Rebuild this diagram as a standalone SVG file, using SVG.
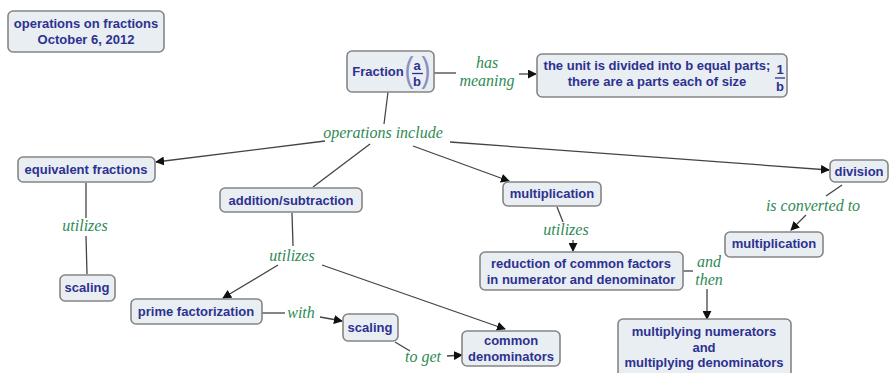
<svg xmlns="http://www.w3.org/2000/svg" width="889" height="373" viewBox="0 0 889 373">
<defs>
<marker id="ah" viewBox="0 0 10 10" refX="9" refY="5" markerWidth="9" markerHeight="9" markerUnits="userSpaceOnUse" orient="auto">
<path d="M0,0 L10,5 L0,10 z" fill="#111"/>
</marker>
<style>
.box{fill:#e9eef3;stroke:#858585;stroke-width:1.6}
.t{font-family:"Liberation Sans",Arial,sans-serif;font-weight:bold;font-size:13px;fill:#2d3190;text-anchor:middle}
.l{font-family:"Liberation Serif","Times New Roman",serif;font-style:italic;font-size:16px;fill:#2f8a55;text-anchor:middle}
.c line{stroke:#444;stroke-width:1.3}
.c .a{marker-end:url(#ah)}
.p{font-family:"Liberation Sans",Arial,sans-serif;font-size:30px;fill:#8a8fc0;text-anchor:middle}
</style>
</defs>
<rect width="889" height="373" fill="#fff"/>

<g class="c" id="connectors">
<line x1="434" y1="73" x2="456" y2="73"/>
<line class="a" x1="519" y1="74" x2="536" y2="74"/>
<line x1="388" y1="92" x2="384" y2="124"/>
<line class="a" x1="325" y1="141" x2="156" y2="162"/>
<line x1="370" y1="144" x2="313" y2="187"/>
<line class="a" x1="413" y1="146" x2="509" y2="181"/>
<line class="a" x1="450" y1="142" x2="829" y2="170"/>
<line x1="86" y1="183" x2="86" y2="218"/>
<line x1="86" y1="236" x2="87" y2="274"/>
<line x1="292" y1="213" x2="293" y2="246"/>
<line class="a" x1="278" y1="265" x2="223" y2="298"/>
<line class="a" x1="322" y1="265" x2="505" y2="329"/>
<line x1="262" y1="313" x2="285" y2="313"/>
<line class="a" x1="320" y1="317" x2="342" y2="321"/>
<line x1="395" y1="342" x2="410" y2="351"/>
<line class="a" x1="447" y1="356" x2="462" y2="355"/>
<line x1="557" y1="207" x2="563" y2="222"/>
<line class="a" x1="573" y1="240" x2="573" y2="251"/>
<line x1="683" y1="271" x2="693" y2="271"/>
<line class="a" x1="707" y1="289" x2="707" y2="319"/>
<line x1="842" y1="185" x2="826" y2="196"/>
<line class="a" x1="806" y1="215" x2="791" y2="230"/>
</g>

<g id="labels">
<text class="l" x="487" y="68">has</text>
<text class="l" x="487" y="86">meaning</text>
<text class="l" x="383" y="138">operations include</text>
<text class="l" x="85" y="231">utilizes</text>
<text class="l" x="292" y="261">utilizes</text>
<text class="l" x="301" y="318">with</text>
<text class="l" x="423" y="362">to get</text>
<text class="l" x="566" y="235">utilizes</text>
<text class="l" x="709" y="267">and</text>
<text class="l" x="709" y="285">then</text>
<text class="l" x="813" y="211">is converted to</text>
</g>

<g id="title">
<rect class="box" x="8" y="11" width="156" height="41" rx="5"/>
<text class="t" x="86" y="28">operations on fractions</text>
<text class="t" x="86" y="44">October 6, 2012</text>
</g>

<g id="fraction">
<rect class="box" x="347" y="51" width="87" height="41" rx="5"/>
<text class="t" x="378" y="76">Fraction</text>
<text class="p" x="409" y="82" transform="translate(409 82) scale(0.9 1.15) translate(-409 -82)">(</text>
<text class="p" x="426" y="82" transform="translate(426 82) scale(0.9 1.15) translate(-426 -82)">)</text>
<text class="t" x="417" y="70">a</text>
<line x1="412" y1="73.5" x2="423" y2="73.5" stroke="#2d3190" stroke-width="1.3"/>
<text class="t" x="417" y="86">b</text>
</g>

<g id="meaning">
<rect class="box" x="537" y="54" width="250" height="43" rx="5"/>
<text class="t" x="657" y="70">the unit is divided into b equal parts;</text>
<text class="t" x="657" y="86">there are a parts each of size</text>
<text class="t" x="780" y="74">1</text>
<line x1="775" y1="78" x2="785" y2="78" stroke="#2d3190" stroke-width="1.3"/>
<text class="t" x="780" y="91">b</text>
</g>

<g id="equivalent">
<rect class="box" x="18" y="157" width="137" height="25" rx="5"/>
<text class="t" x="86" y="174">equivalent fractions</text>
</g>

<g id="addsub">
<rect class="box" x="220" y="188" width="142" height="24" rx="5"/>
<text class="t" x="291" y="205">addition/subtraction</text>
</g>

<g id="scaling1">
<rect class="box" x="60" y="275" width="55" height="26" rx="5"/>
<text class="t" x="87" y="292">scaling</text>
</g>

<g id="prime">
<rect class="box" x="131" y="299" width="131" height="25" rx="5"/>
<text class="t" x="196" y="316">prime factorization</text>
</g>

<g id="scaling2">
<rect class="box" x="343" y="314" width="55" height="27" rx="5"/>
<text class="t" x="370" y="332">scaling</text>
</g>

<g id="common">
<rect class="box" x="462" y="331" width="98" height="35" rx="5"/>
<text class="t" x="511" y="345">common</text>
<text class="t" x="511" y="361">denominators</text>
</g>

<g id="multiplication1">
<rect class="box" x="503" y="182" width="98" height="24" rx="5"/>
<text class="t" x="552" y="198">multiplication</text>
</g>

<g id="reduction">
<rect class="box" x="480" y="252" width="203" height="38" rx="5"/>
<text class="t" x="581" y="268">reduction of common factors</text>
<text class="t" x="581" y="284">in numerator and denominator</text>
</g>

<g id="division">
<rect class="box" x="830" y="160" width="58" height="22" rx="5"/>
<text class="t" x="859" y="176">division</text>
</g>

<g id="multiplication2">
<rect class="box" x="725" y="232" width="98" height="25" rx="5"/>
<text class="t" x="774" y="248">multiplication</text>
</g>

<g id="multiplying">
<rect class="box" x="618" y="319" width="173" height="60" rx="5"/>
<text class="t" x="704" y="336">multiplying numerators</text>
<text class="t" x="704" y="352">and</text>
<text class="t" x="704" y="367">multiplying denominators</text>
</g>
</svg>
